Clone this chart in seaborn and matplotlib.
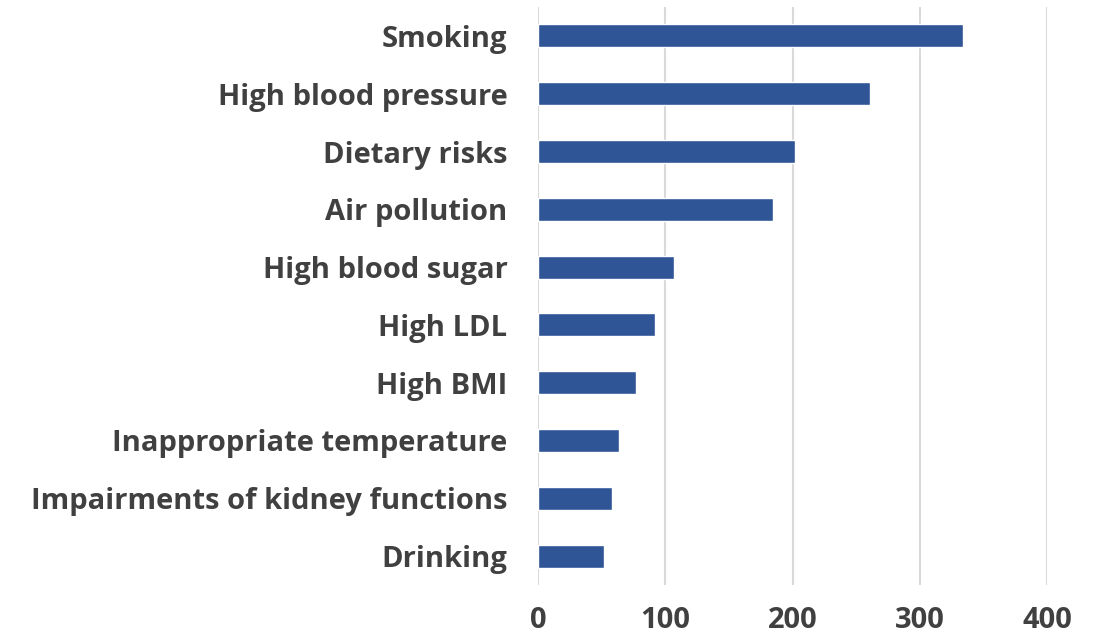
import matplotlib
matplotlib.use("Agg")
import matplotlib.pyplot as plt
import seaborn as sns
import pandas as pd

# Risk factors and their values
factors = [
    "Smoking",
    "High blood pressure",
    "Dietary risks",
    "Air pollution",
    "High blood sugar",
    "High LDL",
    "High BMI",
    "Inappropriate temperature",
    "Impairments of kidney functions",
    "Drinking",
]
values = [334, 261, 202, 185, 107, 92, 77, 64, 58, 52]
x_ticks = [0, 100, 200, 300, 400]

df = pd.DataFrame({"factor": factors, "value": values})

sns.set_theme(style="white")
plt.rcParams["font.family"] = ["Open Sans", "DejaVu Sans"]

fig = plt.figure(figsize=(10.99, 6.38), dpi=100)
ax = fig.add_axes([538 / 1099, 1 - 585 / 638, (1047 - 538) / 1099, (585 - 7) / 638])

sns.barplot(data=df, x="value", y="factor", orient="h", color="#2F5597",
            saturation=1, width=0.4, ax=ax, zorder=3)

ax.set_xlim(0, 400)
ax.set_ylim(9.5, -0.5)
ax.set_xticks(x_ticks)
ax.set_xticklabels([str(t) for t in x_ticks])
ax.set_xlabel("")
ax.set_ylabel("")

ax.grid(axis="x", color="#D9D9D9", linewidth=1.5, zorder=0)
ax.grid(axis="y", visible=False)
for s in ax.spines.values():
    s.set_visible(False)

ax.tick_params(axis="both", length=0)
ax.tick_params(axis="y", pad=22)
ax.tick_params(axis="x", pad=15)
for lab in ax.get_yticklabels() + ax.get_xticklabels():
    lab.set_fontsize(21)
    lab.set_fontweight("bold")
    lab.set_color("#404040")

fig.savefig("out.png", dpi=100)
